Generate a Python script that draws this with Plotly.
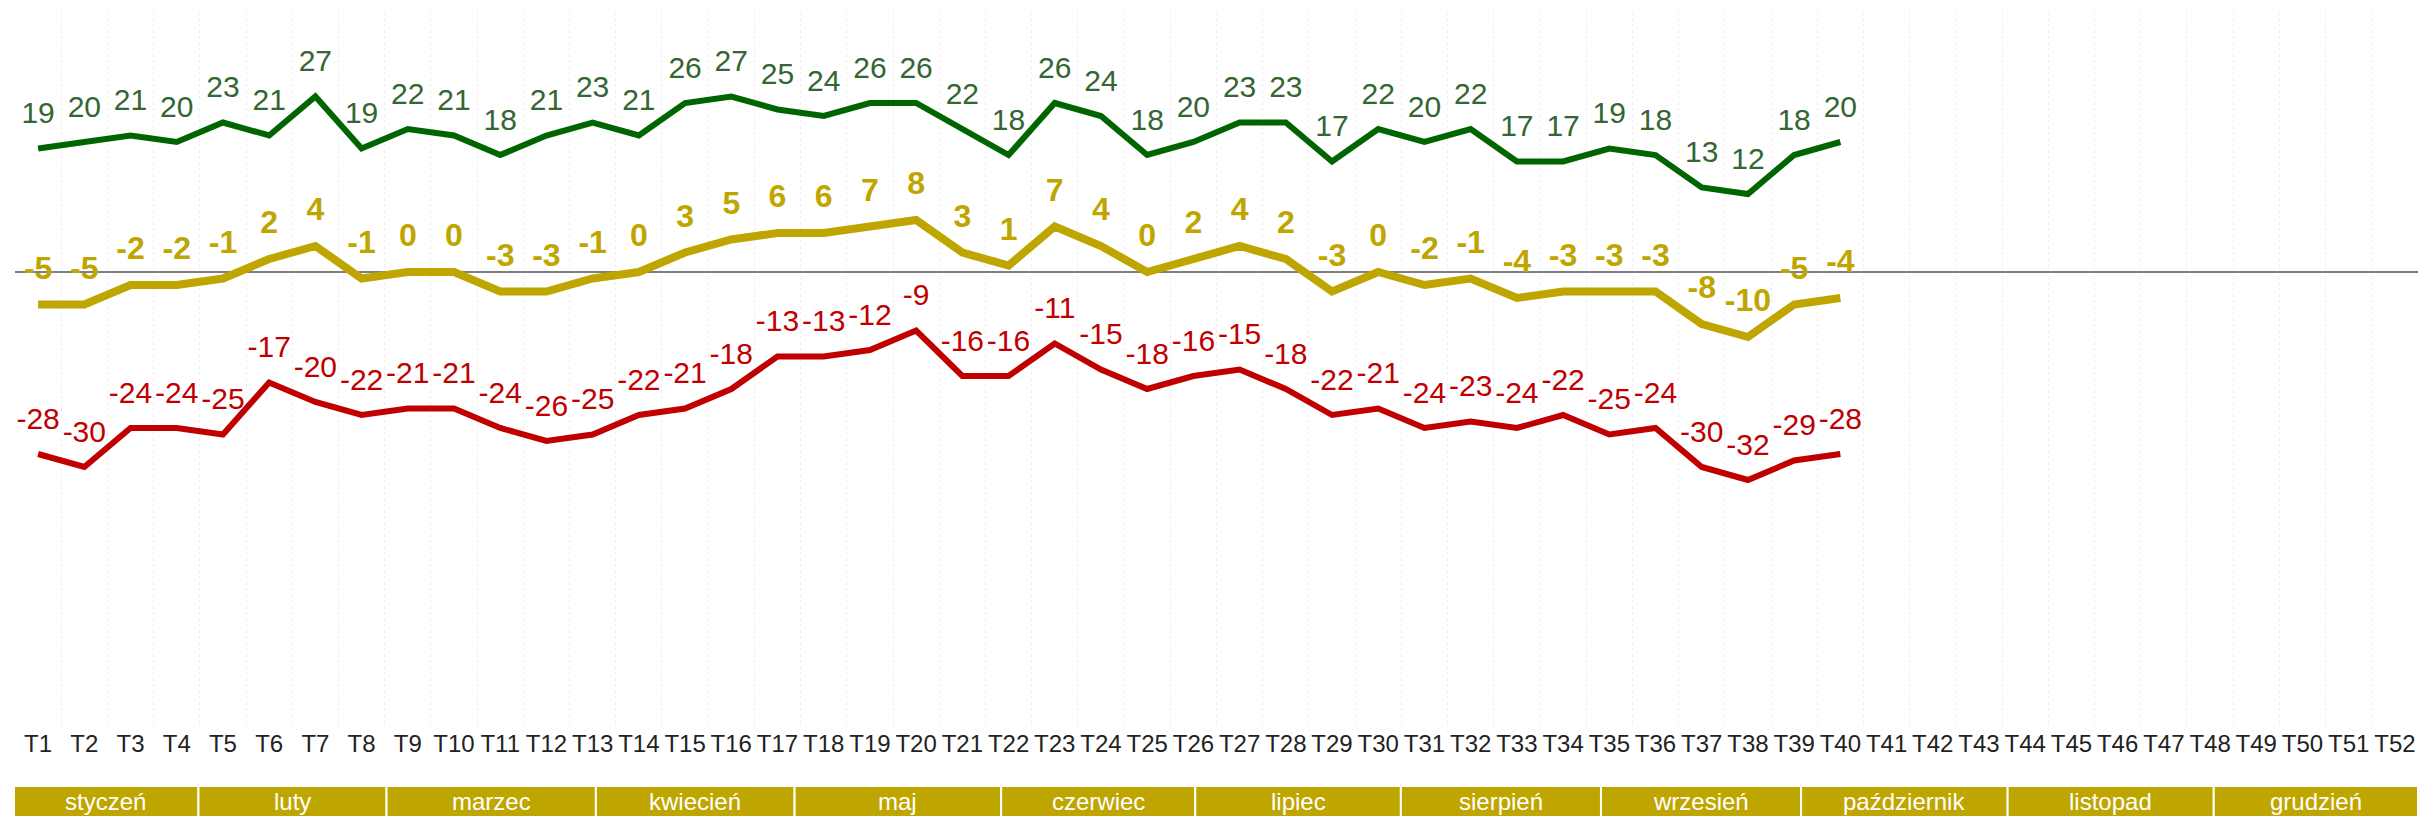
import plotly.graph_objects as go

# ---- data ----
weeks_labels = [f"T{i}" for i in range(1, 53)]
week_idx = list(range(1, 41))

green_vals = [19, 20, 21, 20, 23, 21, 27, 19, 22, 21,
              18, 21, 23, 21, 26, 27, 25, 24, 26, 26,
              22, 18, 26, 24, 18, 20, 23, 23, 17, 22,
              20, 22, 17, 17, 19, 18, 13, 12, 18, 20]
yellow_vals = [-5, -5, -2, -2, -1, 2, 4, -1, 0, 0,
               -3, -3, -1, 0, 3, 5, 6, 6, 7, 8,
               3, 1, 7, 4, 0, 2, 4, 2, -3, 0,
               -2, -1, -4, -3, -3, -3, -8, -10, -5, -4]
red_vals = [-28, -30, -24, -24, -25, -17, -20, -22, -21, -21,
            -24, -26, -25, -22, -21, -18, -13, -13, -12, -9,
            -16, -16, -11, -15, -18, -16, -15, -18, -22, -21,
            -24, -23, -24, -22, -25, -24, -30, -32, -29, -28]

months = ["styczeń", "luty", "marzec", "kwiecień", "maj", "czerwiec",
          "lipiec", "sierpień", "wrzesień", "październik", "listopad", "grudzień"]
month_edges = [0.46, 4.47, 8.54, 13.07, 17.37, 21.84, 26.04,
               30.49, 34.82, 39.15, 43.62, 48.08, 52.5]

# ---- style ----
FONT = "Liberation Sans, Arial, sans-serif"
GREEN_LINE = "#006400"
GREEN_TXT = "#336633"
GOLD = "#BFA500"
RED = "#C00000"

fig = go.Figure()

def add_series(vals, line_color, width, txt_color, size, bold):
    fig.add_trace(go.Scatter(
        x=week_idx, y=vals,
        mode="lines+markers+text",
        line=dict(color=line_color, width=width),
        marker=dict(size=27, opacity=0, color=line_color),
        text=[str(v) for v in vals],
        texttemplate=("<b>%{text}</b>" if bold else "%{text}"),
        textposition="top center",
        textfont=dict(family=FONT, size=size, color=txt_color),
        cliponaxis=False,
        hoverinfo="skip",
        showlegend=False,
    ))

add_series(red_vals, RED, 6, RED, 30, False)
add_series(yellow_vals, GOLD, 8, GOLD, 32, True)
add_series(green_vals, GREEN_LINE, 6, GREEN_TXT, 30, False)

# month bar
shapes = []
annotations = []
for i, m in enumerate(months):
    x0, x1 = month_edges[i], month_edges[i + 1]
    shapes.append(dict(type="rect", xref="x", yref="paper",
                       x0=x0, x1=x1, y0=-0.0825, y1=-0.2,
                       fillcolor=GOLD, line=dict(color="white", width=2),
                       layer="above"))
    annotations.append(dict(xref="x", yref="paper", x=(x0 + x1) / 2, y=-0.1035,
                            text=m, showarrow=False, yanchor="middle",
                            font=dict(family=FONT, size=24, color="white")))

fig.update_layout(
    width=2418, height=816,
    margin=dict(l=15, r=0, t=12, b=89),
    paper_bgcolor="white", plot_bgcolor="white",
    shapes=shapes, annotations=annotations,
    xaxis=dict(
        range=[0.5, 52.5],
        tickvals=list(range(1, 53)), ticktext=weeks_labels,
        showgrid=False, zeroline=False, showline=False,
        ticks="",
        tickfont=dict(family=FONT, size=24, color="#222222"),
        minor=dict(tickvals=[i + 0.5 for i in range(0, 53)], showgrid=True,
                   gridcolor="#EEEEEE", gridwidth=1, griddash="dot", ticks=""),
    ),
    yaxis=dict(
        range=[-70, 40],
        showgrid=False, showticklabels=False, ticks="",
        zeroline=True, zerolinecolor="#7F7F7F", zerolinewidth=2,
    ),
)

fig.write_html("out.html",
               config={"displayModeBar": False},
               post_script="document.body.style.margin='0px';document.body.style.overflow='hidden';")
